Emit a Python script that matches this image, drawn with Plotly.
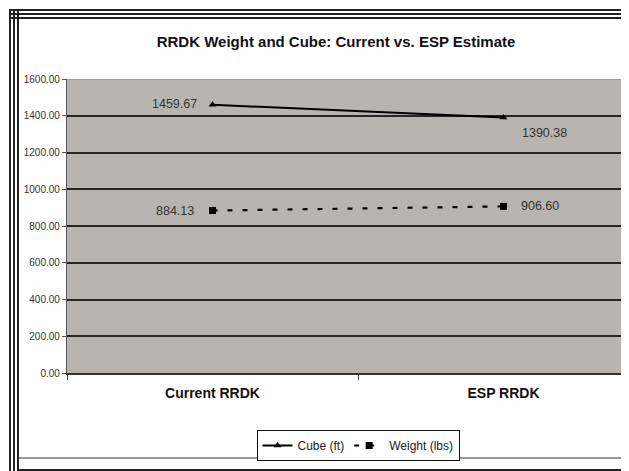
import plotly.graph_objects as go

categories = ["Current RRDK", "ESP RRDK"]
cube_ft = [1459.67, 1390.38]
weight_lbs = [884.13, 906.60]
y_ticks = [0, 200, 400, 600, 800, 1000, 1200, 1400, 1600]

OFF = 8  # page body margin of the browser
W, H = 629 - OFF, 471 - OFF
ML, MR, MT, MB = 67 - OFF, 0, 79 - OFF, 471 - 373
PW, PH = W - ML - MR, H - MT - MB
CAT_STEP = 291
FONT = "Arial, Liberation Sans, sans-serif"


def px_x(px):
    return (px - OFF - ML) / PW


def px_y(py):
    return (H - MB - (py - OFF)) / PH


fig = go.Figure()
fig.add_trace(go.Scatter(
    x=categories, y=cube_ft, name="Cube (ft)", mode="lines+markers",
    line=dict(color="black", width=2),
    marker=dict(symbol="triangle-up", size=7, color="black"),
))
fig.add_trace(go.Scatter(
    x=categories, y=weight_lbs, name="Weight (lbs)", mode="lines+markers",
    line=dict(color="black", width=2.2, dash="5px,10px"),
    marker=dict(symbol="square", size=7, color="black"),
))

# data labels
label_style = [
    (categories[0], cube_ft[0], "right", -14, 1),
    (categories[1], cube_ft[1], "left", 16, -15),
    (categories[0], weight_lbs[0], "right", -17, 0),
    (categories[1], weight_lbs[1], "left", 15, 0),
]
for cx, vy, anchor, xs, ys in label_style:
    fig.add_annotation(x=cx, y=vy, text=f"{vy:.2f}", showarrow=False,
                       xanchor=anchor, yanchor="middle", xshift=xs, yshift=ys,
                       font=dict(family=FONT, size=12.5, color="#333333"))

shapes = []
# top border of plot area
shapes.append(dict(type="line", xref="paper", yref="y", x0=0, x1=1, y0=1600, y1=1600,
                   line=dict(color="#8a8884", width=1.2), layer="above"))
# outer triple frame left and top
for p in (10, 14, 18):
    shapes.append(dict(type="line", xref="paper", yref="paper",
                       x0=px_x(p), x1=px_x(p), y0=px_y(9), y1=px_y(471),
                       line=dict(color="#222222", width=2)))
    shapes.append(dict(type="line", xref="paper", yref="paper",
                       x0=px_x(9), x1=px_x(629), y0=px_y(p), y1=px_y(p),
                       line=dict(color="#222222", width=2)))
# bottom frame lines
shapes.append(dict(type="line", xref="paper", yref="paper",
                   x0=px_x(18), x1=px_x(629), y0=px_y(458), y1=px_y(458),
                   line=dict(color="#333333", width=1.2)))
shapes.append(dict(type="line", xref="paper", yref="paper",
                   x0=px_x(18), x1=px_x(629), y0=px_y(470), y1=px_y(470),
                   line=dict(color="#222222", width=2)))

fig.update_layout(
    width=W, height=H,
    margin=dict(l=ML, r=MR, t=MT, b=MB, autoexpand=False),
    paper_bgcolor="white",
    plot_bgcolor="#b8b5b1",
    title=dict(text="<b>RRDK Weight and Cube: Current vs. ESP Estimate</b>",
               x=px_x(336), xref="paper", xanchor="center",
               y=1 - (42 - OFF) / H, yanchor="middle",
               font=dict(family=FONT, size=15, color="#111111")),
    showlegend=True,
    legend=dict(orientation="h", x=px_x(358), xanchor="center",
                y=px_y(430), yanchor="top",
                bordercolor="#111111", borderwidth=1, bgcolor="white",
                font=dict(family=FONT, size=12, color="#222222"),
                itemwidth=30, tracegroupgap=0),
    shapes=shapes,
    xaxis=dict(type="category", range=[-0.5, -0.5 + PW / CAT_STEP], tickson="boundaries",
               ticks="outside", ticklen=5, tickcolor="#444444",
               showline=True, linecolor="#333333", linewidth=1.5,
               showgrid=False, zeroline=False, fixedrange=True,
               tickfont=dict(family=FONT, size=14, color="#111111"),
               tickprefix="<b>", ticksuffix="</b>", ticklabelstandoff=6),
    yaxis=dict(range=[0, 1600], tickvals=y_ticks, tickformat=".2f",
               ticks="outside", ticklen=4, tickcolor="#555555",
               showline=True, linecolor="#555555", linewidth=1.2,
               showgrid=True, gridcolor="#262626", gridwidth=1.5,
               zeroline=False,
               tickfont=dict(family=FONT, size=10, color="#333333")),
)

fig.write_html("out.html")
